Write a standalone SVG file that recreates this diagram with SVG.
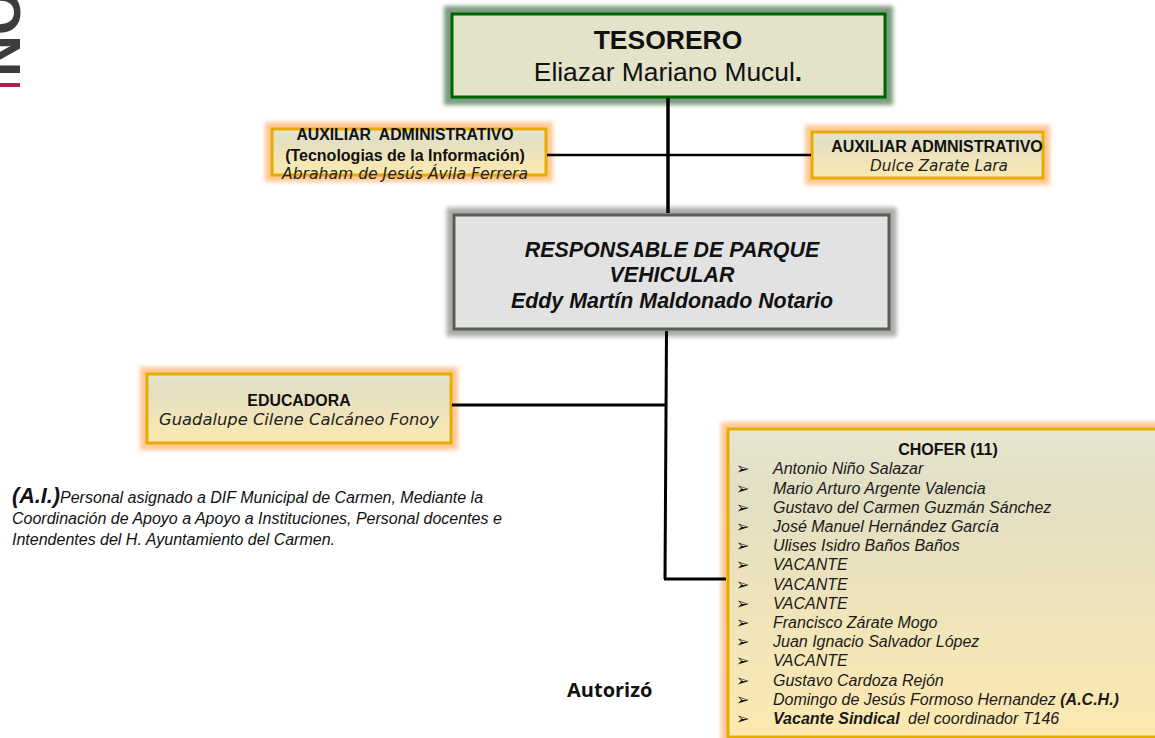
<svg xmlns="http://www.w3.org/2000/svg" width="1155" height="738" viewBox="0 0 1155 738">
<style>
text{font-family:"Liberation Sans",Arial,sans-serif;fill:#111}
.c{text-anchor:middle}
.b{font-weight:bold}
.i{font-style:italic}
.g{font-family:"DejaVu Sans","Liberation Sans",sans-serif;font-style:italic;fill:#222}
.orange{fill:none;stroke:#ffc796;stroke-width:14;filter:url(#blur)}
.box{stroke:#e6ac00;stroke-width:3;fill:url(#grad)}
.l{stroke:#000;fill:none}
.ch{font-size:16px;font-style:italic;fill:#1a1a1a}
.bu{font-family:"DejaVu Sans",sans-serif;font-size:16px;fill:#111}
</style>
<defs>
<linearGradient id="grad" x1="0" y1="0" x2="0" y2="1"><stop offset="0" stop-color="#e8e6d2"/><stop offset="0.2" stop-color="#e2dfc4"/><stop offset="1" stop-color="#fde9b0"/></linearGradient>
<filter id="blur" x="-20%" y="-40%" width="140%" height="180%"><feGaussianBlur stdDeviation="2.2"/></filter>
</defs>
<g id="logo">
<text transform="translate(-20,-10) rotate(90)" font-size="58" style="font-weight:bold;fill:#3c3c3c">ON</text>
<rect x="0" y="83" width="20" height="4" fill="#a8234f"/>
</g>
<g id="tesorero">
<rect x="452" y="14" width="433" height="83" fill="none" stroke="#7c9c80" stroke-width="16" filter="url(#blur)"/>
<rect x="452" y="14" width="433" height="83" fill="#e4e3c9" stroke="#006400" stroke-width="3"/>
<text class="c b" x="668" y="49" font-size="26.5">TESORERO</text>
<text class="c" x="668" y="81" font-size="26.4">Eliazar Mariano Mucul<tspan class="b">.</tspan></text>
</g>
<g id="aux-ti">
<rect class="orange" x="272" y="129" width="274" height="46"/>
<rect class="box" x="272" y="129" width="274" height="46"/>
<text class="c b" x="405" y="140" font-size="15.8" word-spacing="4">AUXILIAR ADMINISTRATIVO</text>
<text class="c b" x="405" y="161" font-size="16">(Tecnologias de la Información)</text>
<text class="c g" x="405" y="179" font-size="16" textLength="246" lengthAdjust="spacingAndGlyphs">Abraham de Jesús Ávila Ferrera</text>
</g>
<g id="aux-dulce">
<rect class="orange" x="812" y="132" width="231" height="46"/>
<rect class="box" x="812" y="132" width="231" height="46"/>
<text class="c b" x="937" y="152" font-size="16">AUXILIAR ADMNISTRATIVO</text>
<text class="c g" x="939" y="171" font-size="16" textLength="138" lengthAdjust="spacingAndGlyphs">Dulce Zarate Lara</text>
</g>
<g id="responsable">
<rect x="454" y="215" width="435" height="114" fill="none" stroke="#ababab" stroke-width="15" filter="url(#blur)"/>
<rect x="454" y="215" width="435" height="114" fill="#e2e2e2" stroke="#566050" stroke-width="3"/>
<text class="c b i" x="672" y="257" font-size="21.4">RESPONSABLE DE PARQUE</text>
<text class="c b i" x="672" y="282" font-size="21.4">VEHICULAR</text>
<text class="c b i" x="672" y="308" font-size="21.4">Eddy Martín Maldonado Notario</text>
</g>
<g id="educadora">
<rect class="orange" x="147" y="374" width="304" height="69"/>
<rect class="box" x="147" y="374" width="304" height="69"/>
<text class="c b" x="299" y="406" font-size="15.9">EDUCADORA</text>
<text class="c g" x="299" y="425" font-size="16.5" textLength="280" lengthAdjust="spacingAndGlyphs">Guadalupe Cilene Calcáneo Fonoy</text>
</g>
<g id="nota">
<text x="12" y="503" font-size="16" class="i"><tspan class="b" font-size="21.6">(A.I.)</tspan>Personal asignado a DIF Municipal de Carmen, Mediante la</text>
<text x="12" y="524" font-size="16" class="i">Coordinación de Apoyo a Apoyo a Instituciones, Personal docentes e</text>
<text x="12" y="545" font-size="16" class="i">Intendentes del H. Ayuntamiento del Carmen.</text>
</g>
<g id="chofer">
<rect class="orange" x="728" y="429" width="440" height="308"/>
<rect class="box" x="728" y="429" width="440" height="308"/>
<text class="c b" x="948" y="455" font-size="16">CHOFER (11)</text>
<text class="bu" x="736" y="474">➢</text><text class="ch" x="773" y="474">Antonio Niño Salazar</text>
<text class="bu" x="736" y="494">➢</text><text class="ch" x="773" y="494">Mario Arturo Argente Valencia</text>
<text class="bu" x="736" y="513">➢</text><text class="ch" x="773" y="513">Gustavo del Carmen Guzmán Sánchez</text>
<text class="bu" x="736" y="532">➢</text><text class="ch" x="773" y="532">José Manuel Hernández García</text>
<text class="bu" x="736" y="551">➢</text><text class="ch" x="773" y="551">Ulises Isidro Baños Baños</text>
<text class="bu" x="736" y="570">➢</text><text class="ch" x="773" y="570">VACANTE</text>
<text class="bu" x="736" y="590">➢</text><text class="ch" x="773" y="590">VACANTE</text>
<text class="bu" x="736" y="609">➢</text><text class="ch" x="773" y="609">VACANTE</text>
<text class="bu" x="736" y="628">➢</text><text class="ch" x="773" y="628">Francisco Zárate Mogo</text>
<text class="bu" x="736" y="647">➢</text><text class="ch" x="773" y="647">Juan Ignacio Salvador López</text>
<text class="bu" x="736" y="666">➢</text><text class="ch" x="773" y="666">VACANTE</text>
<text class="bu" x="736" y="686">➢</text><text class="ch" x="773" y="686">Gustavo Cardoza Rejón</text>
<text class="bu" x="736" y="705">➢</text><text class="ch" x="773" y="705">Domingo de Jesús Formoso Hernandez <tspan class="b">(A.C.H.)</tspan></text>
<text class="bu" x="736" y="724">➢</text><text class="ch" x="773" y="724"><tspan class="b">Vacante Sindical</tspan> <tspan dx="4">del coordinador T146</tspan></text>
</g>
<g id="autorizo">
<text x="567" y="697" font-size="20" style="font-family:'Open Sans',sans-serif;font-weight:bold">Autorizó</text>
</g>
<g id="connectors">
<path class="l" stroke-width="3.5" d="M668 98V213"/>
<path class="l" stroke-width="2.5" d="M547 155H811"/>
<path class="l" stroke-width="3" d="M666.5 331L665 579"/>
<path class="l" stroke-width="3" d="M452 405H665"/>
<path class="l" stroke-width="3" d="M664 579H726"/>
</g>
</svg>
